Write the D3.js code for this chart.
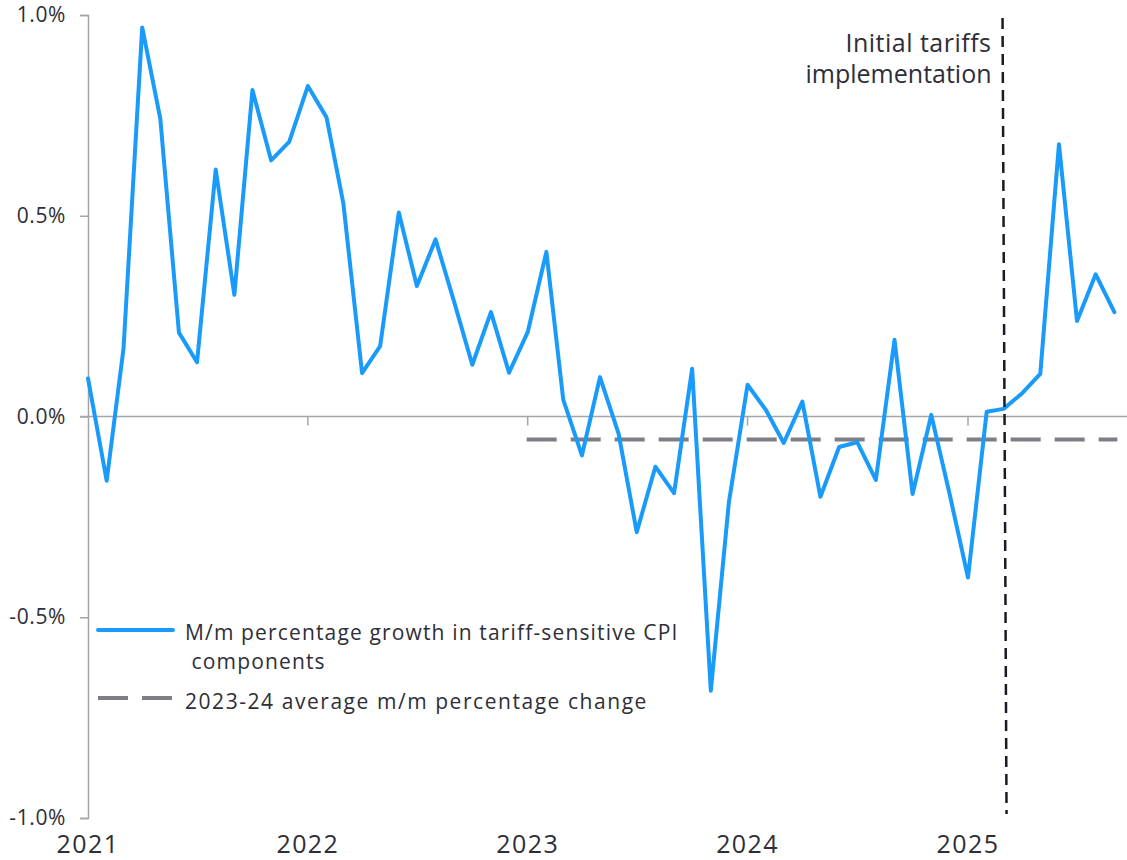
<!DOCTYPE html>
<html>
<head>
<meta charset="utf-8">
<script src="https://cdn.jsdelivr.net/npm/d3@7"></script>
<style>
  html, body { margin: 0; padding: 0; background: #ffffff; }
  svg { display: block; font-family: "Open Sans", "Noto Sans", sans-serif; }
</style>
</head>
<body>
<svg id="chart" width="1127" height="860"></svg>
<script>
// Monthly m/m % change in tariff-sensitive CPI components
const months = [
  "2021-01","2021-02","2021-03","2021-04","2021-05","2021-06","2021-07","2021-08","2021-09","2021-10","2021-11","2021-12",
  "2022-01","2022-02","2022-03","2022-04","2022-05","2022-06","2022-07","2022-08","2022-09","2022-10","2022-11","2022-12",
  "2023-01","2023-02","2023-03","2023-04","2023-05","2023-06","2023-07","2023-08","2023-09","2023-10","2023-11","2023-12",
  "2024-01","2024-02","2024-03","2024-04","2024-05","2024-06","2024-07","2024-08","2024-09","2024-10","2024-11","2024-12",
  "2025-01","2025-02","2025-03","2025-04","2025-05","2025-06","2025-07","2025-08","2025-09"
];
const growth = [
  0.095, -0.160, 0.170, 0.969, 0.742, 0.209, 0.135, 0.615, 0.303, 0.813, 0.638, 0.684,
  0.823, 0.745, 0.530, 0.108, 0.175, 0.508, 0.325, 0.441, 0.285, 0.129, 0.260, 0.109,
  0.210, 0.410, 0.042, -0.097, 0.098, -0.043, -0.288, -0.125, -0.191, 0.119, -0.683, -0.214,
  0.079, 0.015, -0.066, 0.037, -0.200, -0.076, -0.064, -0.158, 0.191, -0.193, 0.004, -0.190,
  -0.401, 0.012, 0.019, 0.058, 0.106, 0.678, 0.238, 0.354, 0.260
];

// 2023-24 average reference line
const avgValue = -0.057;
const avgSpan = ["2023-01", "2025-09"];

// Tariff event marker
const tariffMonth = "2025-03";
const tariffLabel = ["Initial tariffs", "implementation"];

// Axis ticks
const yTicks = [-1.0, -0.5, 0.0, 0.5, 1.0];
const xTickYears = ["2021", "2022", "2023", "2024", "2025"];

// Legend entries
const legendGrowth = ["M/m percentage growth in tariff-sensitive CPI", " components"];
const legendAvg = "2023-24 average m/m percentage change";

const parseMonth = d3.timeParse("%Y-%m");
const parseYear = d3.timeParse("%Y");
const series = months.map((m, i) => ({ date: parseMonth(m), value: growth[i] }));

const svg = d3.select("#chart");
const blue = "#1a9bfa";
const grey = "#7f7e86";
const axisGrey = "#a4a4ab";
const ink = "#2e2e38";

const x = d3.scaleTime()
  .domain([parseYear("2021"), parseYear("2025")])
  .range([88, 968]);
const y = d3.scaleLinear()
  .domain([-1, 1])
  .range([818, 15]);

// Y axis (hyphen-minus for negatives)
const pct = d3.format(".1f");
const yAxis = d3.axisLeft(y)
  .tickValues(yTicks)
  .tickSize(8)
  .tickPadding(14)
  .tickFormat(d => pct(d).replace("\u2212", "-") + "%");
const gy = svg.append("g").attr("transform", `translate(${x(parseYear("2021"))},0)`).call(yAxis);
gy.select(".domain").attr("stroke", axisGrey).attr("stroke-width", 1.5);
gy.selectAll(".tick line").attr("stroke", axisGrey).attr("stroke-width", 1.5);
gy.selectAll(".tick text")
  .attr("fill", ink)
  .attr("font-size", 21)
  .attr("letter-spacing", 0.6)
  .attr("font-family", "'Open Sans', sans-serif");

// Zero line with year ticks
svg.append("line")
  .attr("x1", x(parseYear("2021")) - 8).attr("x2", 1127)
  .attr("y1", y(0)).attr("y2", y(0))
  .attr("stroke", axisGrey).attr("stroke-width", 1.5);
svg.selectAll(".yeartick")
  .data(xTickYears.slice(1))
  .join("line")
  .attr("class", "yeartick")
  .attr("x1", d => x(parseYear(d))).attr("x2", d => x(parseYear(d)))
  .attr("y1", y(0)).attr("y2", y(0) + 9)
  .attr("stroke", axisGrey).attr("stroke-width", 1.5);

// Year labels along the bottom
svg.selectAll(".yearlabel")
  .data(xTickYears)
  .join("text")
  .attr("class", "yearlabel")
  .attr("x", d => x(parseYear(d)))
  .attr("y", 853)
  .attr("text-anchor", "middle")
  .attr("fill", ink)
  .attr("font-size", 25)
  .attr("letter-spacing", 1.4)
  .text(d => d);

// Average dashed line
svg.append("line")
  .attr("x1", x(parseMonth(avgSpan[0])) - 1)
  .attr("x2", x(parseMonth(avgSpan[1])) + 3)
  .attr("y1", y(avgValue)).attr("y2", y(avgValue))
  .attr("stroke", grey)
  .attr("stroke-width", 4)
  .attr("stroke-dasharray", "30 14");

// Main series line
const line = d3.line().x(d => x(d.date)).y(d => y(d.value));
svg.append("path")
  .datum(series)
  .attr("d", line)
  .attr("fill", "none")
  .attr("stroke", blue)
  .attr("stroke-width", 4)
  .attr("stroke-linejoin", "round")
  .attr("stroke-linecap", "round");

// Tariff implementation marker
const tx = x(parseMonth(tariffMonth));
svg.append("line")
  .attr("x1", tx - 1).attr("x2", tx + 3)
  .attr("y1", 18).attr("y2", 814)
  .attr("stroke", "#1a1a24")
  .attr("stroke-width", 2.5)
  .attr("stroke-dasharray", "11 7");
svg.append("text")
  .attr("text-anchor", "end")
  .attr("fill", ink)
  .attr("font-size", 25)
  .selectAll("tspan")
  .data(tariffLabel)
  .join("tspan")
  .attr("x", tx - 12)
  .attr("y", (d, i) => 52 + i * 31)
  .attr("letter-spacing", (d, i) => i === 0 ? 0.5 : 0)
  .text(d => d);

// Legend
const legend = svg.append("g");
legend.append("line")
  .attr("x1", 98).attr("x2", 173)
  .attr("y1", 630).attr("y2", 630)
  .attr("stroke", blue).attr("stroke-width", 4).attr("stroke-linecap", "round");
legend.append("text")
  .attr("fill", ink)
  .attr("font-size", 21)
  .attr("letter-spacing", 1.15)
  .selectAll("tspan")
  .data(legendGrowth)
  .join("tspan")
  .attr("x", 185)
  .attr("y", (d, i) => 640 + i * 29)
  .style("white-space", "pre")
  .text(d => d);
legend.append("line")
  .attr("x1", 98).attr("x2", 173)
  .attr("y1", 698).attr("y2", 698)
  .attr("stroke", grey).attr("stroke-width", 4)
  .attr("stroke-dasharray", "30 14");
legend.append("text")
  .attr("x", 185).attr("y", 709)
  .attr("fill", ink)
  .attr("font-size", 21)
  .attr("letter-spacing", 1.55)
  .text(legendAvg);
</script>
</body>
</html>
